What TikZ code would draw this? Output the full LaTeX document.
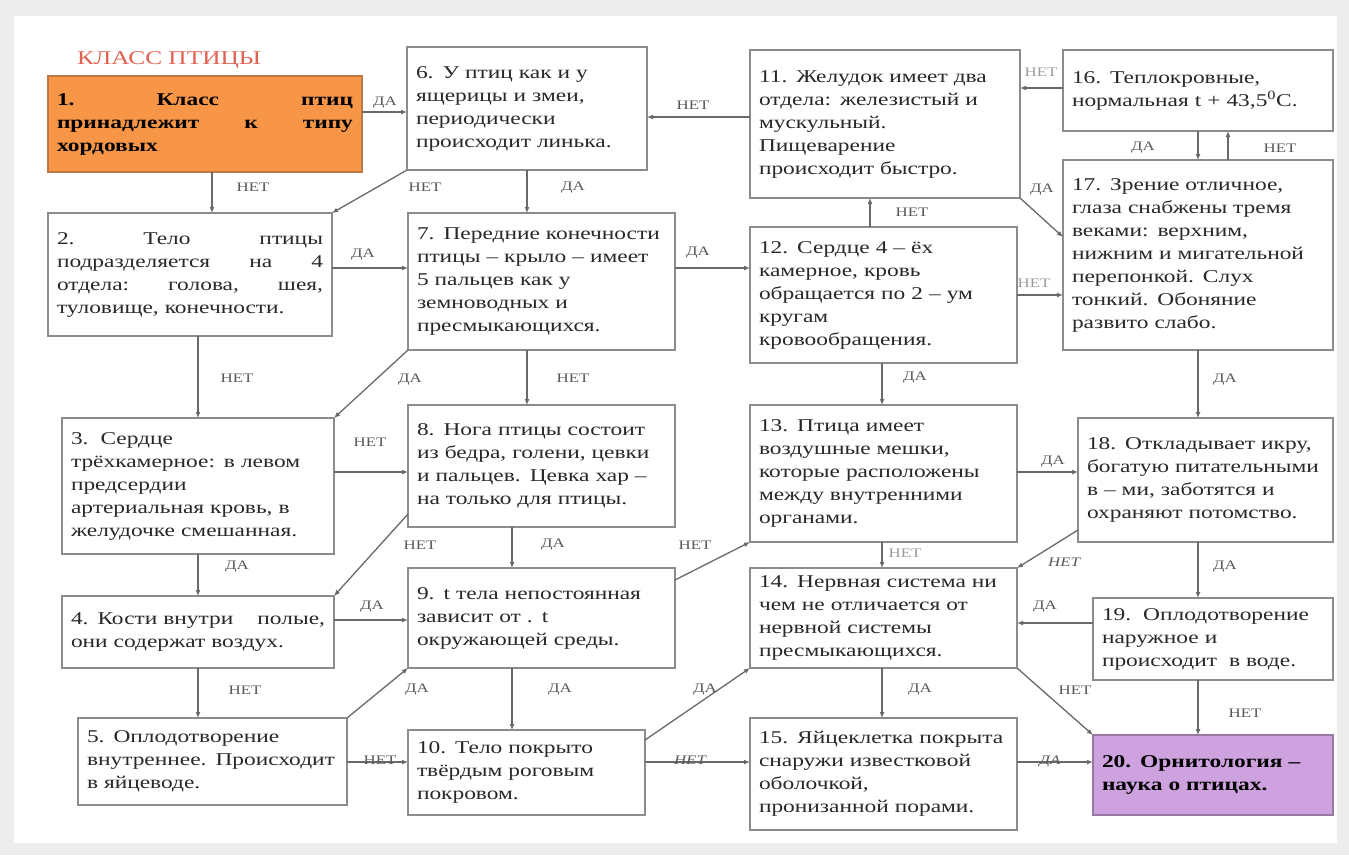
\documentclass[tikz,border=0pt]{standalone}
\usepackage{fontspec}
\setmainfont{Liberation Serif}[FakeStretch=1.3]
\usetikzlibrary{arrows.meta}

\definecolor{boxline}{RGB}{140,140,140}
\definecolor{conline}{RGB}{105,105,105}
\definecolor{txtgray}{RGB}{40,40,40}
\definecolor{lblgray}{RGB}{90,90,90}
\definecolor{orangefill}{RGB}{247,150,70}
\definecolor{orangeline}{RGB}{190,120,70}
\definecolor{lilacfill}{RGB}{205,162,222}
\definecolor{lilacline}{RGB}{150,120,160}
\definecolor{titlered}{RGB}{226,98,82}

\tikzset{
  box/.style 2 args={draw=boxline, line width=1.4pt, rectangle, anchor=north west, inner xsep=9pt, inner ysep=0pt, outer sep=0pt, text width=#1, minimum height=#2, align=left, text=txtgray, font=\fontsize{18}{23}\selectfont},
  con/.style={draw=conline, line width=1.3pt, -{Latex[length=6pt,width=5pt]}},
  lbl/.style={inner sep=0pt, text=lblgray, font=\fontsize{13}{15}\selectfont},
}

\begin{document}
\begin{tikzpicture}[x=1pt,y=1pt,yscale=-1,xscale=1]
            \useasboundingbox (0,0) rectangle (1349,855);
            \fill [black!7] (0,0) rectangle (1349,855);
            \fill [white] (14,16) rectangle (1337,843);

            % Title
            \node [anchor=north west, inner sep=0pt, text=titlered, font=\fontsize{19.5}{22}\selectfont] (title) at (77,51) {КЛАСС ПТИЦЫ};

            %Shape: Rectangle, column 1
            \node [box={296pt}{96pt}, fill=orangefill, draw=orangeline, text=black] (b1) at (48,76) {\textbf{1.\hfill Класс\hfill птиц\\ принадлежит\hfill к\hfill типу\\ хордовых}};
            \node [box={266pt}{123pt}] (b2) at (48,213) {2.\hfill Тело\hfill птицы\\ подразделяется\hfill на\hfill 4\\ отдела:\hfill голова,\hfill шея,\\ туловище, конечности.};
            \node [box={254pt}{136pt}] (b3) at (62,418) {3.\ \ Сердце\\ трёхкамерное: в левом\\ предсердии\\ артериальная кровь, в\\ желудочке смешанная.};
            \node [box={254pt}{72pt}] (b4) at (62,596) {4. Кости внутри\hfill полые,\\ они содержат воздух.};
            \node [box={251pt}{87pt}] (b5) at (78,718) {5. Оплодотворение\\ внутреннее. Происходит\\ в яйцеводе.};
            %Shape: Rectangle, column 2
            \node [box={222pt}{123pt}] (b6) at (407,47) {6. У птиц как и у\\ ящерицы и змеи,\\ периодически\\ происходит линька.};
            \node [box={249pt}{137pt}] (b7) at (408,213) {7. Передние конечности\\ птицы – крыло – имеет\\ 5 пальцев как у\\ земноводных и\\ пресмыкающихся.};
            \node [box={249pt}{122pt}] (b8) at (408,405) {8. Нога птицы состоит\\ из бедра, голени, цевки\\ и пальцев. Цевка хар –\\ на только для птицы.};
            \node [box={249pt}{100pt}] (b9) at (408,568) {9. t тела непостоянная\\ зависит от . t\\ окружающей среды.};
            \node [box={219pt}{85pt}] (b10) at (408,730) {10. Тело покрыто\\ твёрдым роговым\\ покровом.};
            %Shape: Rectangle, column 3
            \node [box={252pt}{148pt}] (b11) at (750,50) {11. Желудок имеет два\\ отдела: железистый и\\ мускульный.\\ Пищеварение\\ происходит быстро.};
            \node [box={249pt}{136pt}] (b12) at (750,227) {12. Сердце 4 – ёх\\ камерное, кровь\\ обращается по 2 – ум\\ кругам\\ кровообращения.};
            \node [box={249pt}{137pt}] (b13) at (750,405) {13. Птица имеет\\ воздушные мешки,\\ которые расположены\\ между внутренними\\ органами.};
            \node [box={249pt}{100pt}] (b14) at (750,568) {14. Нервная система ни\\ чем не отличается от\\ нервной системы\\ пресмыкающихся.};
            \node [box={249pt}{112pt}] (b15) at (750,718) {15. Яйцеклетка покрыта\\ снаружи известковой\\ оболочкой,\\ пронизанной порами.};
            %Shape: Rectangle, column 4
            \node [box={252pt}{81pt}] (b16) at (1063,50) {16. Теплокровные,\\ нормальная t + 43,5\textsuperscript{0}С.};
            \node [box={252pt}{190pt}] (b17) at (1063,160) {17. Зрение отличное,\\ глаза снабжены тремя\\ веками: верхним,\\ нижним и мигательной\\ перепонкой. Слух\\ тонкий. Обоняние\\ развито слабо.};
            \node [box={237pt}{124pt}] (b18) at (1078,418) {18. Откладывает икру,\\ богатую питательными\\ в – ми, заботятся и\\ охраняют потомство.};
            \node [box={222pt}{82pt}] (b19) at (1093,598) {19.\ \ Оплодотворение\\ наружное и\\ происходит\ \ в воде.};
            \node [box={222pt}{80pt}, fill=lilacfill, draw=lilacline, text=black] (b20) at (1093,735) {\textbf{20. Орнитология –\\ наука о птицах.}};

            %Straight Lines, horizontal
            \draw [con] (b1.east |- 0,112) -- (b6.west |- 0,112);
            \draw [con] (b11.west |- 0,117) -- (b6.east |- 0,117);
            \draw [con] (b16.west |- 0,88) -- (b11.east |- 0,88);
            \draw [con] (b2.east |- 0,268) -- (b7.west |- 0,268);
            \draw [con] (b7.east |- 0,268) -- (b12.west |- 0,268);
            \draw [con] (b12.east |- 0,295) -- (b17.west |- 0,295);
            \draw [con] (b3.east |- 0,472) -- (b8.west |- 0,472);
            \draw [con] (b13.east |- 0,472) -- (b18.west |- 0,472);
            \draw [con] (b4.east |- 0,620) -- (b9.west |- 0,620);
            \draw [con] (b19.west |- 0,623) -- (b14.east |- 0,623);
            \draw [con] (b5.east |- 0,762) -- (b10.west |- 0,762);
            \draw [con] (b10.east |- 0,762) -- (b15.west |- 0,762);
            \draw [con] (b15.east |- 0,762) -- (b20.west |- 0,762);
            %Straight Lines, vertical
            \draw [con] (b1.south -| 212,0) -- (b2.north -| 212,0);
            \draw [con] (b2.south -| 198,0) -- (b3.north -| 198,0);
            \draw [con] (b3.south -| 198,0) -- (b4.north -| 198,0);
            \draw [con] (b4.south -| 198,0) -- (b5.north -| 198,0);
            \draw [con] (b6.south -| 527,0) -- (b7.north -| 527,0);
            \draw [con] (b7.south -| 527,0) -- (b8.north -| 527,0);
            \draw [con] (b8.south -| 512,0) -- (b9.north -| 512,0);
            \draw [con] (b9.south -| 512,0) -- (b10.north -| 512,0);
            \draw [con] (b12.north -| 870,0) -- (b11.south -| 870,0);
            \draw [con] (b12.south -| 882,0) -- (b13.north -| 882,0);
            \draw [con] (b13.south -| 882,0) -- (b14.north -| 882,0);
            \draw [con] (b14.south -| 882,0) -- (b15.north -| 882,0);
            \draw [con] (b16.south -| 1198,0) -- (b17.north -| 1198,0);
            \draw [con] (b17.north -| 1228,0) -- (b16.south -| 1228,0);
            \draw [con] (b17.south -| 1198,0) -- (b18.north -| 1198,0);
            \draw [con] (b18.south -| 1198,0) -- (b19.north -| 1198,0);
            \draw [con] (b19.south -| 1198,0) -- (b20.north -| 1198,0);
            %Straight Lines, diagonal
            \draw [con] (b6.south west) -- (b2.north east);
            \draw [con] (b7.south west) -- (b3.north east);
            \draw [con] (b8.west |- 0,514) -- (b4.north east);
            \draw [con] (b5.north east) -- (b9.south west);
            \draw [con] (b9.east |- 0,580) -- (b13.south west);
            \draw [con] (b10.east |- 0,740) -- (b14.south west);
            \draw [con] (b11.south east) -- (b17.west |- 0,237);
            \draw [con] (b18.west |- 0,530) -- (b14.north east);
            \draw [con] (b14.south east) -- (b20.north west);

            % Text Node
            \node [lbl] (l1) at (385,103) {ДА};
            \node [lbl] (l2) at (253,187) {НЕТ};
            \node [lbl] (l3) at (425,187) {НЕТ};
            \node [lbl] (l4) at (573,188) {ДА};
            \node [lbl] (l5) at (693,105) {НЕТ};
            \node [lbl] (l6) at (912,212) {НЕТ};
            \node [lbl, text=lblgray!60] (l7) at (1041,72) {НЕТ};
            \node [lbl] (l8) at (1143,148) {ДА};
            \node [lbl] (l9) at (1280,148) {НЕТ};
            \node [lbl] (l10) at (1042,190) {ДА};
            \node [lbl, text=lblgray!60] (l11) at (1034,283) {НЕТ};
            \node [lbl] (l12) at (363,255) {ДА};
            \node [lbl] (l13) at (698,253) {ДА};
            \node [lbl] (l14) at (237,378) {НЕТ};
            \node [lbl] (l15) at (410,380) {ДА};
            \node [lbl] (l16) at (573,378) {НЕТ};
            \node [lbl] (l17) at (915,378) {ДА};
            \node [lbl] (l18) at (1225,380) {ДА};
            \node [lbl] (l19) at (370,442) {НЕТ};
            \node [lbl] (l20) at (237,567) {ДА};
            \node [lbl] (l21) at (420,545) {НЕТ};
            \node [lbl] (l22) at (553,545) {ДА};
            \node [lbl] (l23) at (695,545) {НЕТ};
            \node [lbl, text=lblgray!60] (l24) at (905,553) {НЕТ};
            \node [lbl] (l25) at (1053,462) {ДА};
            \node [lbl, font=\fontsize{13}{15}\itshape] (l26) at (1064,562) {НЕТ};
            \node [lbl] (l27) at (1225,567) {ДА};
            \node [lbl] (l28) at (372,607) {ДА};
            \node [lbl] (l29) at (245,690) {НЕТ};
            \node [lbl] (l30) at (417,690) {ДА};
            \node [lbl] (l31) at (560,690) {ДА};
            \node [lbl] (l32) at (1045,607) {ДА};
            \node [lbl] (l33) at (920,690) {ДА};
            \node [lbl] (l34) at (705,690) {ДА};
            \node [lbl] (l35) at (1075,690) {НЕТ};
            \node [lbl] (l36) at (1245,713) {НЕТ};
            \node [lbl] (l37) at (380,760) {НЕТ};
            \node [lbl, font=\fontsize{13}{15}\itshape] (l38) at (690,760) {НЕТ};
            \node [lbl, font=\fontsize{13}{15}\itshape] (l39) at (1050,762) {ДА};
\end{tikzpicture}
\end{document}
